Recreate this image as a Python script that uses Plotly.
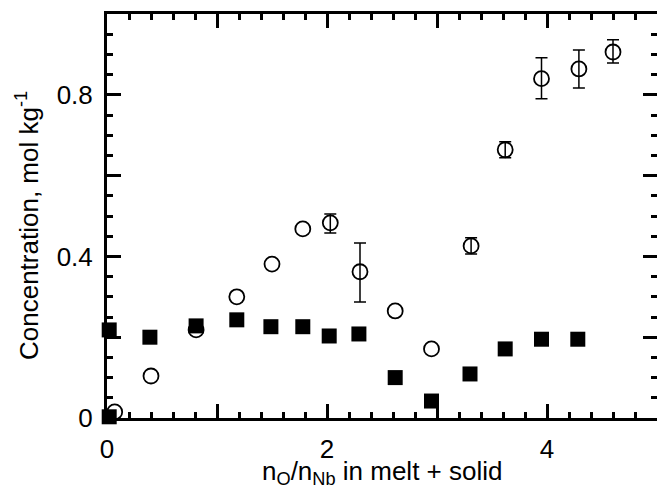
import plotly.graph_objects as go

# open circles (with error bars)
circ_x = [0.07, 0.40, 0.81, 1.18, 1.50, 1.78, 2.03, 2.30, 2.62, 2.95, 3.31, 3.62, 3.95, 4.29, 4.60]
circ_y = [0.015, 0.104, 0.218, 0.300, 0.381, 0.468, 0.483, 0.362, 0.265, 0.171, 0.426, 0.664, 0.840, 0.864, 0.906]
circ_err_plus = [0, 0, 0, 0, 0, 0, 0.022, 0.071, 0, 0, 0.020, 0.020, 0.052, 0.047, 0.030]
circ_err_minus = [0, 0, 0, 0, 0, 0, 0.025, 0.075, 0, 0, 0.020, 0.020, 0.050, 0.047, 0.027]

# filled squares
sq_x = [0.02, 0.02, 0.39, 0.81, 1.18, 1.49, 1.78, 2.02, 2.29, 2.62, 2.95, 3.30, 3.62, 3.95, 4.28]
sq_y = [0.003, 0.218, 0.200, 0.228, 0.243, 0.226, 0.226, 0.203, 0.208, 0.100, 0.042, 0.109, 0.171, 0.195, 0.195]

x_tickvals = [0, 1, 2, 3, 4, 5]
x_ticktext = ["0", "", "2", "", "4", ""]
y_tickvals = [0, 0.2, 0.4, 0.6, 0.8, 1.0]
y_ticktext = ["0", "", "0.4", "", "0.8", ""]

FONT = "Liberation Sans, Arial, Helvetica, sans-serif"
FS = 26

has_err = [i for i in range(len(circ_x)) if circ_err_plus[i] > 0 or circ_err_minus[i] > 0]
no_err = [i for i in range(len(circ_x)) if i not in has_err]

circle_marker = dict(symbol="circle-open", size=15, color="black", line=dict(width=1.8))

fig = go.Figure()
fig.add_trace(go.Scatter(
    x=[circ_x[i] for i in no_err], y=[circ_y[i] for i in no_err], mode="markers",
    marker=circle_marker, showlegend=False, cliponaxis=False,
))
fig.add_trace(go.Scatter(
    x=[circ_x[i] for i in has_err], y=[circ_y[i] for i in has_err], mode="markers",
    marker=circle_marker,
    error_y=dict(type="data", symmetric=False,
                 array=[circ_err_plus[i] for i in has_err],
                 arrayminus=[circ_err_minus[i] for i in has_err],
                 color="black", thickness=1.5, width=6),
    showlegend=False, cliponaxis=False,
))
fig.add_trace(go.Scatter(
    x=sq_x, y=sq_y, mode="markers",
    marker=dict(symbol="square", size=15, color="black", line=dict(width=0)),
    showlegend=False, cliponaxis=False,
))
# invisible trace for right-side ticks
fig.add_trace(go.Scatter(x=[None], y=[None], yaxis="y2", showlegend=False, hoverinfo="skip"))

fig.update_layout(
    width=657, height=490,
    margin=dict(l=107, r=0, t=14, b=72),
    plot_bgcolor="white", paper_bgcolor="white",
    font=dict(family=FONT, color="black", size=FS),
    xaxis=dict(
        range=[0, 5], tickvals=x_tickvals, ticktext=x_ticktext,
        ticks="inside", ticklen=14, tickwidth=2.5, tickcolor="black",
        showline=True, linewidth=3, linecolor="black", mirror="ticks",
        showgrid=False, zeroline=False,
        tickfont=dict(size=FS),
        minor=dict(dtick=0.2, ticks="inside", ticklen=6, tickwidth=2.5, tickcolor="black", showgrid=False),
        ticklabelstandoff=6,
    ),
    yaxis=dict(
        range=[0, 1.0], tickvals=y_tickvals, ticktext=y_ticktext,
        ticks="inside", ticklen=14, tickwidth=2.5, tickcolor="black",
        showline=True, linewidth=3, linecolor="black", mirror=False,
        showgrid=False, zeroline=False,
        tickfont=dict(size=FS),
        minor=dict(dtick=0.05, ticks="inside", ticklen=6, tickwidth=2.5, tickcolor="black", showgrid=False),
        ticklabelstandoff=6,
    ),
    yaxis2=dict(
        range=[0, 1.0], overlaying="y", side="right", tickvals=y_tickvals,
        showticklabels=False, ticks="inside", ticklen=14, tickwidth=2.5, tickcolor="black",
        showline=False, showgrid=False, zeroline=False,
        minor=dict(dtick=0.05, ticks="inside", ticklen=6, tickwidth=2.5, tickcolor="black", showgrid=False),
    ),
    annotations=[
        dict(text="Concentration, mol kg<sup>-1</sup>", textangle=-90,
             x=(27 - 107) / 550, xref="paper", xanchor="center",
             y=(418 - 226) / 404, yref="paper", yanchor="middle",
             showarrow=False, font=dict(size=FS, family=FONT)),
        dict(text="n<sub>O</sub>/n<sub>Nb</sub> in melt + solid",
             x=0.5, xref="paper", xanchor="center", y=-0.09, yref="paper", yanchor="top",
             showarrow=False, font=dict(size=FS, family=FONT)),
    ],
)

fig.write_html("out.html")
